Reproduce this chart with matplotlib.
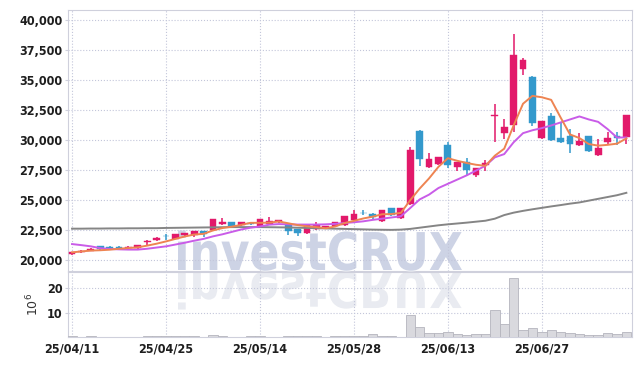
import numpy as np
import pandas as pd
import matplotlib
matplotlib.use("Agg")
import matplotlib.pyplot as plt
from matplotlib.textpath import TextPath
from matplotlib.patches import PathPatch
from matplotlib.font_manager import FontProperties
from matplotlib.transforms import Affine2D, IdentityTransform
from matplotlib.ticker import FuncFormatter

# daily candles, 25/04/11 .. 25/07/10
opens = [20500, 20650, 20800, 21150, 21100, 21100, 21000, 21000, 21550, 21650,
         22050, 21800, 22080, 22080, 22400, 22480, 22980, 23150, 22900, 23050,
         22820, 22980, 23150, 22980, 22570, 22240, 22570, 22650, 22820, 22900,
         23320, 23950, 23820, 23230, 24310, 23480, 24650, 30700, 27720, 27970,
         29540, 27720, 28130, 27050, 27950, 31950, 30600, 31200, 35930, 35270,
         30120, 31950, 30120, 30290, 29540, 30290, 28710, 29790, 30290, 30200]
closes = [20650, 20800, 20950, 20900, 21050, 21050, 21100, 21250, 21600, 21850,
          22000, 22150, 22250, 22400, 22150, 23400, 23150, 22820, 23150, 23000,
          23400, 23230, 23320, 22400, 22240, 22900, 22900, 22820, 23150, 23650,
          23820, 23900, 23570, 24150, 23730, 24310, 29200, 28380, 28380, 28550,
          27880, 28130, 27470, 27630, 28100, 32100, 31050, 37100, 36680, 31370,
          31530, 29960, 29790, 29620, 29870, 29040, 29290, 30120, 30120, 32030]
highs = [20700, 20850, 21000, 21200, 21200, 21150, 21150, 21300, 21650, 21900,
         22200, 22200, 22300, 22450, 22450, 23450, 23480, 23200, 23200, 23100,
         23450, 23560, 23350, 23000, 22600, 22950, 23150, 22850, 23200, 23700,
         24150, 24150, 23950, 24200, 24350, 24350, 29450, 30800, 28880, 28600,
         29800, 28200, 28500, 27700, 28350, 32950, 31700, 38840, 36850, 35300,
         31580, 32200, 31450, 30870, 30540, 30300, 30040, 30620, 30620, 32050]
lows = [20450, 20600, 20750, 20850, 20950, 21000, 20950, 20900, 21300, 21600,
        21650, 21750, 21950, 21950, 21900, 22450, 22950, 22800, 22850, 22900,
        22800, 22950, 23100, 22070, 21990, 22200, 22550, 22600, 22800, 22850,
        23300, 23730, 23400, 23200, 23700, 23450, 24600, 27800, 27650, 27900,
        27700, 27380, 27050, 26950, 27450, 29800, 30040, 30620, 35430, 31120,
        30100, 29900, 29750, 28880, 29500, 29000, 28680, 29540, 29540, 29620]
volume = [0.9, 0.3, 0.9, 0.3, 0.3, 0.3, 0.3, 0.3, 0.9, 0.9,
          0.9, 0.9, 0.9, 0.9, 0.3, 1.4, 1.0, 0.3, 0.3, 0.9,
          0.9, 0.3, 0.3, 0.9, 0.9, 0.9, 0.9, 0.3, 0.9, 0.9,
          0.9, 0.9, 1.7, 0.9, 0.9, 0.3, 9.3, 4.4, 2.3, 2.3,
          2.5, 1.7, 1.2, 1.7, 1.7, 11.3, 5.7, 24.0, 3.3, 4.0,
          2.7, 3.3, 2.5, 2.0, 1.7, 1.2, 1.2, 2.0, 1.7, 2.5]
# 20-day and 60-day averages (they include earlier data)
ma20 = [21340, 21250, 21150, 21000, 20930, 20900, 20880, 20880, 20950, 21050,
        21150, 21300, 21450, 21620, 21770, 21980, 22150, 22350, 22550, 22700,
        22800, 22950, 23000, 22980, 22960, 22960, 22960, 22980, 23020, 23090,
        23150, 23230, 23350, 23450, 23550, 23650, 24340, 25050, 25450, 26000,
        26350, 26700, 27050, 27450, 27850, 28550, 28820, 29800, 30560, 30800,
        30980, 31200, 31450, 31700, 31950, 31700, 31500, 30900, 30200, 30200]
ma60 = [22620, 22620, 22630, 22630, 22640, 22640, 22650, 22650, 22660, 22660,
        22680, 22690, 22700, 22710, 22720, 22730, 22740, 22750, 22750, 22750,
        22750, 22740, 22730, 22720, 22700, 22680, 22660, 22640, 22620, 22600,
        22580, 22560, 22540, 22530, 22520, 22540, 22600, 22700, 22800, 22900,
        22980, 23050, 23120, 23200, 23280, 23450, 23750, 23950, 24100, 24230,
        24350, 24470, 24580, 24700, 24800, 24950, 25100, 25250, 25400, 25600]
tick_idx = [0, 10, 20, 30, 40, 50]
tick_labels = ['25/04/11', '25/04/25', '25/05/14', '25/05/28', '25/06/13', '25/06/27']

df = pd.DataFrame({'o': opens, 'c': closes, 'h': highs, 'l': lows, 'v': volume})
df['ma5'] = df['c'].rolling(5, min_periods=1).mean()
x = np.arange(len(df))

up_col = '#e2196a'
dn_col = '#3399cc'
grid_col = '#c3c6da'
lab_font = dict(family='DejaVu Sans', weight='bold', stretch='condensed', size=9)

fig = plt.figure(figsize=(6.42, 3.66), dpi=100)
ax = fig.add_axes([68/642, 1-271/366, 564/642, 261/366])
axv = fig.add_axes([68/642, 1-337/366, 564/642, 65/366], sharex=ax)
for a in (ax, axv):
    a.set_facecolor('none')
    for s in a.spines.values():
        s.set_color('#cfd0dc')
        s.set_linewidth(0.8)
    a.grid(True, color=grid_col, linestyle=':', linewidth=0.8)
    a.set_axisbelow(True)

# watermark + reflection
fp = FontProperties(family='DejaVu Sans', weight='bold')
tp = TextPath((0, 0), 'investCRUX', size=52, prop=fp)
bb = tp.get_extents()
sx = (462-178) / bb.width
tr = Affine2D().scale(sx, 1).translate(178 - bb.x0*sx, 366-270)
ax.add_patch(PathPatch(tp, transform=tr + IdentityTransform(), color='#cdd3e5',
                       lw=0, zorder=0.5, clip_on=False))
tr2 = Affine2D().scale(sx, -0.95).translate(178 - bb.x0*sx, 366-272)
axv.add_patch(PathPatch(tp, transform=tr2 + IdentityTransform(), color='#e9ebf1',
                        lw=0, zorder=0.5, clip_on=False))

# candles
up = df['c'] >= df['o']
cols = np.where(up, up_col, dn_col)
body_lo = np.minimum(df['o'], df['c'])
body_h = np.maximum((df['c'] - df['o']).abs(), 40)
ax.vlines(x, df['l'], df['h'], colors=cols, linewidth=1.1, zorder=3)
ax.bar(x, body_h, bottom=body_lo, width=0.72, color=cols, edgecolor=cols,
       linewidth=0.3, zorder=4)

ax.plot(x, ma60, color='#858585', lw=1.4, zorder=5)
ax.plot(x, ma20, color='#c95ce8', lw=1.4, zorder=5)
ax.plot(x, df['ma5'], color='#ee8452', lw=1.4, zorder=5)

ax.set_ylim(19100, 40800)
ax.set_yticks(np.arange(20000, 40001, 2500))
ax.yaxis.set_major_formatter(FuncFormatter(lambda v, p: f'{int(v):,}'))
ax.tick_params(axis='y', length=2, color='#cfd0dc', pad=2, labelcolor='#1e1e1e')
ax.tick_params(axis='x', length=0, labelbottom=False)
for t in ax.get_yticklabels():
    t.set_fontproperties(FontProperties(**lab_font))

# volume
axv.bar(x, df['v'], width=1.0, color='#d9d9de', edgecolor='#b5b5bd', linewidth=0.6, zorder=3)
axv.set_ylim(0.5, 26.6)
axv.set_yticks([10, 20])
axv.set_xlim(-0.43, 59.6)
axv.set_xticks(tick_idx)
axv.set_xticklabels(tick_labels)
axv.tick_params(axis='y', length=2, color='#cfd0dc', pad=2, labelcolor='#1e1e1e')
axv.tick_params(axis='x', length=0, pad=4, labelcolor='#1e1e1e')
for t in axv.get_yticklabels() + axv.get_xticklabels():
    t.set_fontproperties(FontProperties(**lab_font))
axv.set_ylabel(r'$10^6$', fontsize=9, color='#333333', labelpad=4)

fig.savefig('out.png', dpi=100, facecolor='white')
